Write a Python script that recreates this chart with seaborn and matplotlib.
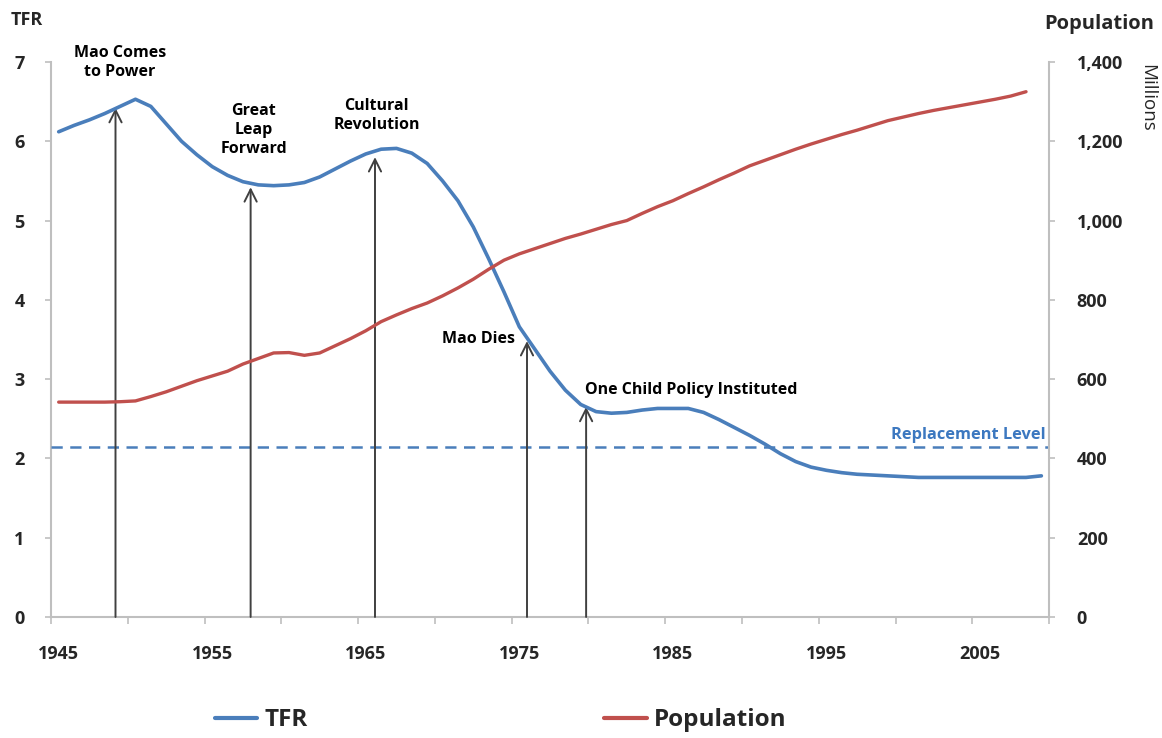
import matplotlib
matplotlib.use("Agg")
import matplotlib.pyplot as plt
import numpy as np
import pandas as pd
import seaborn as sns

# Total fertility rate, China, 1945-2009
tfr_years = list(range(1945, 2010))
tfr = [6.12, 6.20, 6.27, 6.35, 6.44, 6.53, 6.44, 6.22, 6.00, 5.83,
       5.68, 5.57, 5.49, 5.45, 5.44, 5.45, 5.48, 5.55, 5.65, 5.75,
       5.84, 5.90, 5.91, 5.85, 5.72, 5.50, 5.25, 4.92, 4.52, 4.10,
       3.66, 3.38, 3.10, 2.86, 2.68, 2.59, 2.57, 2.58, 2.61, 2.63,
       2.63, 2.63, 2.58, 2.49, 2.39, 2.29, 2.18, 2.06, 1.96, 1.89,
       1.85, 1.82, 1.80, 1.79, 1.78, 1.77, 1.76, 1.76, 1.76, 1.76,
       1.76, 1.76, 1.76, 1.76, 1.78]

# Population in millions, 1945-2008
pop_years = list(range(1945, 2009))
population = [542, 542, 542, 542, 543, 545, 556, 568, 582, 596,
              608, 620, 638, 652, 666, 667, 660, 666, 684, 702,
              722, 745, 762, 778, 792, 810, 830, 852, 877, 900,
              916, 929, 942, 955, 966, 978, 990, 1000, 1018, 1035,
              1050, 1068, 1085, 1103, 1120, 1138, 1152, 1166, 1180, 1193,
              1205, 1217, 1228, 1240, 1252, 1261, 1270, 1278, 1285, 1292,
              1299, 1306, 1314, 1325]

replacement_level = 2.14

# Historical events: (label, year, arrow tip TFR, text x, text y, alignment)
events = [
    ("Mao Comes\nto Power", 1948.7, 6.42, 1949.0, 6.99, "center"),
    ("Great\nLeap\nForward", 1957.5, 5.42, 1957.7, 6.14, "center"),
    ("Cultural\nRevolution", 1965.6, 5.80, 1965.7, 6.32, "center"),
    ("Mao Dies", 1975.5, 3.48, 1974.7, 3.50, "right"),
    ("One Child Policy Instituted", 1979.35, 2.65, 1979.3, 2.86, "left"),
]

sns.set_style("white")
plt.rcParams["font.family"] = ["Open Sans", "DejaVu Sans"]

BLUE = "#4A7EBB"
RED = "#C0504D"
AXIS_GRAY = "#BFBFBF"
ARROW_GRAY = "#404040"

fig = plt.figure(figsize=(11.62, 7.38), dpi=100)
ax = fig.add_axes([0.0439, 0.164, 0.8589, 0.752])
ax2 = ax.twinx()

df_tfr = pd.DataFrame({"year": tfr_years, "TFR": tfr})
df_pop = pd.DataFrame({"year": pop_years, "Population": population})

sns.lineplot(data=df_tfr, x="year", y="TFR", ax=ax, color=BLUE, lw=2.6, zorder=5)
sns.lineplot(data=df_pop, x="year", y="Population", ax=ax2, color=RED, lw=2.4, zorder=5)

# Replacement level
ax.axhline(replacement_level, color=BLUE, lw=1.8, ls=(0, (4.5, 3)), zorder=3)
ax.text(2009.3, replacement_level + 0.06, "Replacement Level", color="#3C78C0",
        fontsize=11.8, fontweight="bold", ha="right", va="bottom")

# Event arrows and labels
for label, yr, tip, tx, ty, ha in events:
    ax.annotate("", xy=(yr, tip), xytext=(yr, 0),
                arrowprops=dict(arrowstyle="->", color=ARROW_GRAY, lw=1.4,
                                mutation_scale=22, shrinkA=0, shrinkB=0),
                zorder=4)
    ax.text(tx, ty, label, ha=ha, va="center", fontsize=11.5, fontweight="bold",
            linespacing=1.25, color="black", zorder=6)

# Axes limits and ticks
ax.set_xlim(1944.5, 2009.5)
ax.set_ylim(0, 7)
ax2.set_ylim(0, 1400)

ax.set_xticks(np.arange(1944.5, 2010, 5))
ax.set_xticklabels([])
ax.set_xticks(np.arange(1945, 2006, 10), minor=True)
ax.set_xticklabels([str(y) for y in range(1945, 2006, 10)], minor=True)
ax.tick_params(axis="x", which="major", direction="out", length=5, width=1.2,
               color=AXIS_GRAY, bottom=True)
ax.tick_params(axis="x", which="minor", length=0, pad=20, labelsize=13)

ax.set_yticks(range(0, 8))
ax.tick_params(axis="y", direction="out", length=4, width=1.2, color=AXIS_GRAY,
               pad=15, labelsize=13, left=True)
ax2.set_yticks(range(0, 1401, 200))
ax2.set_yticklabels([f"{v:,}" for v in range(0, 1401, 200)])
ax2.tick_params(axis="y", direction="out", length=4, width=1.2, color=AXIS_GRAY,
                pad=16, labelsize=13, right=True)

for lab in ax.get_xticklabels(minor=True) + ax.get_yticklabels() + ax2.get_yticklabels():
    lab.set_fontweight("bold")

ax.set_xlabel("")
ax.set_ylabel("")
ax2.set_ylabel("")

for a in (ax, ax2):
    a.spines["top"].set_visible(False)
    for s in ("left", "right", "bottom"):
        a.spines[s].set_color(AXIS_GRAY)
        a.spines[s].set_linewidth(1.5)
ax.spines["right"].set_visible(False)
ax2.spines["left"].set_visible(False)
ax2.spines["bottom"].set_visible(False)
ax.grid(False)
ax2.grid(False)

# Axis titles
fig.text(0.009, 0.973, "TFR", fontsize=13, fontweight="bold", ha="left", va="center")
fig.text(0.993, 0.968, "Population", fontsize=14.5, fontweight="bold", ha="right", va="center")
fig.text(0.987, 0.867, "Millions", fontsize=13.5, rotation=270, ha="center", va="center")

# Legend below the plot
handles = [plt.Line2D([], [], color=BLUE, lw=3), plt.Line2D([], [], color=RED, lw=3)]
fig.legend(handles, ["TFR", "Population"], loc="center", bbox_to_anchor=(0.431, 0.024),
           ncol=2, frameon=False, handlelength=1.75, handletextpad=0.3,
           columnspacing=12.2, prop={"size": 17.5, "weight": "bold"})

fig.savefig("out.png", dpi=100)
